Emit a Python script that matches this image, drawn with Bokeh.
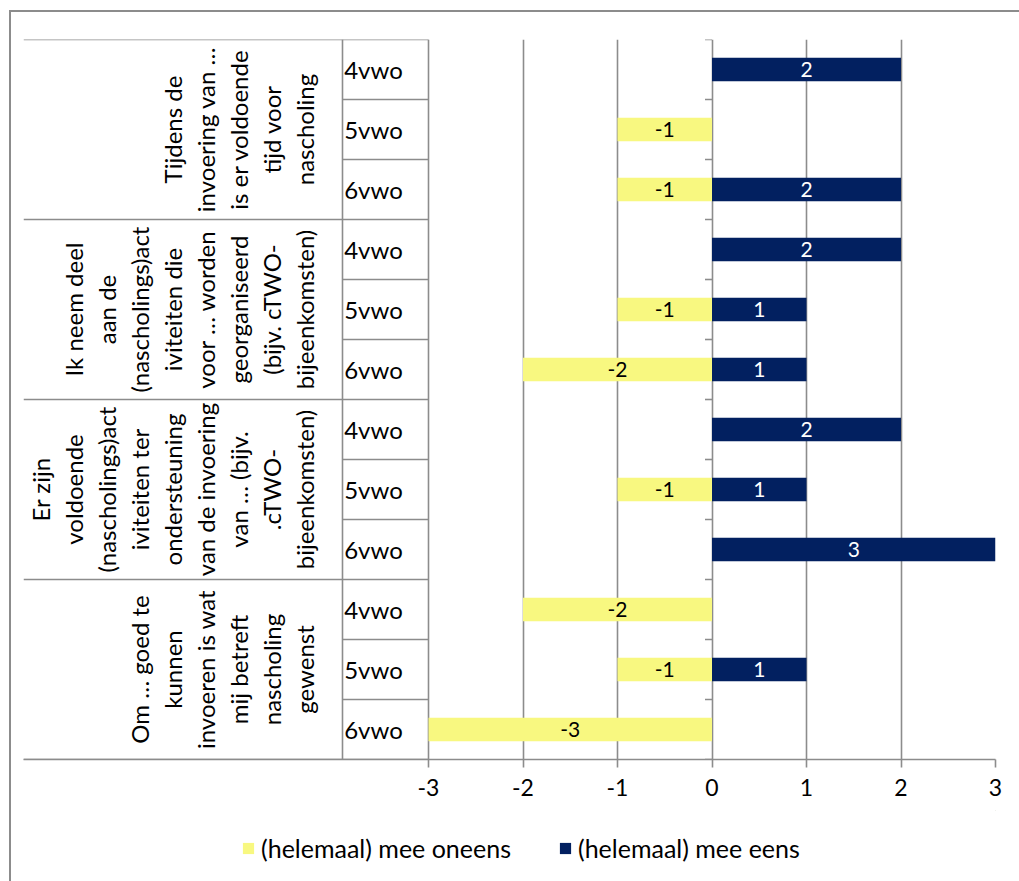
import math

from bokeh.core.properties import value
from bokeh.embed import file_html
from bokeh.layouts import column
from bokeh.models import (ColumnDataSource, FixedTicker, Legend, LegendItem,
                          Range1d)
from bokeh.plotting import figure
from bokeh.resources import INLINE

# ---- data -------------------------------------------------------------
# statements, top to bottom, already broken into their wrapped lines
statement_lines = [
    ["Tijdens de", "invoering van …", "is er voldoende", "tijd voor", "nascholing"],
    ["Ik neem deel", "aan de", "(nascholings)act", "iviteiten die", "voor … worden",
     "georganiseerd", "(bijv. cTWO-", "bijeenkomsten)"],
    ["Er zijn", "voldoende", "(nascholings)act", "iviteiten ter", "ondersteuning",
     "van de invoering", "van … (bijv.", ".cTWO-", "bijeenkomsten)"],
    ["Om … goed te", "kunnen", "invoeren is wat", "mij betreft", "nascholing", "gewenst"],
]
years = ["4vwo", "5vwo", "6vwo"]

# one value per (statement, year), in the same top-to-bottom order
disagree = [0, -1, -1, 0, -1, -2, 0, -1, 0, -2, -1, -3]
agree = [2, 0, 2, 2, 1, 1, 2, 1, 3, 0, 1, 0]

x_ticks = [-3, -2, -1, 0, 1, 2, 3]
series_names = ["(helemaal) mee oneens", "(helemaal) mee eens"]

# ---- layout -----------------------------------------------------------
W, H = 1019, 881
MAIN_H = 810                  # chart part; the legend strip takes the rest
FRAME_L, FRAME_R, FRAME_T, FRAME_B = 23, 995, 39, 759
VALUE_LEFT_PX = 428           # where the value axis starts (x = -3)
YEAR_COL_PX = 342             # divider between statement and year columns
YEAR_TEXT_PX = 373
LAST_LINE_PX = 304
LINE_STEP_PX = 33
BORDER_X, BORDER_Y = 9, 10

FONT = value("Lato")
GRID = "#8c8c8c"
YELLOW = "#f8f880"
NAVY = "#022060"

x_min, x_max = min(x_ticks), max(x_ticks)
px_per_unit = (FRAME_R - VALUE_LEFT_PX) / (x_max - x_min)
x_start = x_min - (VALUE_LEFT_PX - FRAME_L) / px_per_unit


def px_x(px):
    """Convert a horizontal pixel position in the canvas to data units."""
    return x_start + (px - FRAME_L) / px_per_unit


def border_css(top):
    """Grey chart border (left edge, optionally top edge) behind the canvas."""
    line = f"linear-gradient({GRID},{GRID})"
    if top:
        return {
            "background-color": "white",
            "background-image": f"{line}, {line}",
            "background-size": "2px 100%, 100% 2px",
            "background-position": f"{BORDER_X}px {BORDER_Y}px, {BORDER_X}px {BORDER_Y}px",
            "background-repeat": "no-repeat",
        }
    return {
        "background-color": "white",
        "background-image": line,
        "background-size": "2px 100%",
        "background-position": f"{BORDER_X}px 0px",
        "background-repeat": "no-repeat",
    }


n_rows = len(disagree)
n_years = len(years)

p = figure(
    width=W, height=MAIN_H,
    output_backend="svg", toolbar_location=None,
    x_range=Range1d(x_start, x_max), y_range=Range1d(n_rows, 0),
    y_axis_location=None,
    min_border_left=FRAME_L, min_border_right=W - FRAME_R,
    min_border_top=FRAME_T, min_border_bottom=MAIN_H - FRAME_B,
    styles=border_css(top=True),
)
p.outline_line_color = None
p.background_fill_color = "white"
p.border_fill_alpha = 0

# vertical gridlines at the value ticks only
p.xgrid.ticker = FixedTicker(ticks=x_ticks)
p.xgrid.grid_line_color = GRID
p.xgrid.grid_line_width = 1.6
p.ygrid.visible = False

ax = p.xaxis[0]
ax.ticker = FixedTicker(ticks=x_ticks)
ax.major_label_overrides = {t: str(t) for t in x_ticks}
ax.axis_line_color = GRID
ax.axis_line_width = 1.6
ax.major_tick_line_color = GRID
ax.major_tick_line_width = 1.6
ax.major_tick_in = 0
ax.major_tick_out = 8
ax.minor_tick_line_color = None
ax.major_label_text_font = "Lato"
ax.major_label_text_font_size = "23px"
ax.major_label_text_color = "black"
ax.major_label_standoff = 11

# ---- bars -------------------------------------------------------------
neg_rows = [i for i, v in enumerate(disagree) if v != 0]
pos_rows = [i for i, v in enumerate(agree) if v != 0]

neg_src = ColumnDataSource(dict(
    y=[i + 0.5 for i in neg_rows],
    left=[disagree[i] for i in neg_rows],
    right=[0] * len(neg_rows),
    mid=[disagree[i] / 2 for i in neg_rows],
    label=[str(disagree[i]) for i in neg_rows],
))
pos_src = ColumnDataSource(dict(
    y=[i + 0.5 for i in pos_rows],
    left=[0] * len(pos_rows),
    right=[agree[i] for i in pos_rows],
    mid=[agree[i] / 2 for i in pos_rows],
    label=[str(agree[i]) for i in pos_rows],
))

p.hbar(y="y", left="left", right="right", height=0.39,
       fill_color=YELLOW, line_color=None, source=neg_src)
p.hbar(y="y", left="left", right="right", height=0.39,
       fill_color=NAVY, line_color=None, source=pos_src)

p.text(x="mid", y="y", text="label", source=neg_src, text_align="center",
       text_baseline="middle", text_font=FONT, text_font_size="21px",
       text_color="black")
p.text(x="mid", y="y", text="label", source=pos_src, text_align="center",
       text_baseline="middle", text_font=FONT, text_font_size="21px",
       text_color="white")

# ---- category table on the left ---------------------------------------
tick_len = 7 / px_per_unit
group_bounds = list(range(0, n_rows + 1, n_years))
row_bounds = [b for b in range(n_rows + 1) if b not in group_bounds]

# statement separators (full width of the label area)
p.segment(x0=[px_x(FRAME_L)] * len(group_bounds), x1=[x_min] * len(group_bounds),
          y0=group_bounds, y1=group_bounds, line_color=GRID, line_width=1.6)
# year separators (year column only)
p.segment(x0=[px_x(YEAR_COL_PX)] * len(row_bounds), x1=[x_min] * len(row_bounds),
          y0=row_bounds, y1=row_bounds, line_color=GRID, line_width=1.6)
# divider between statement and year columns
p.segment(x0=[px_x(YEAR_COL_PX)], x1=[px_x(YEAR_COL_PX)], y0=[0], y1=[n_rows],
          line_color=GRID, line_width=1.6)
# tick marks on the category axis at x = 0
all_bounds = list(range(n_rows + 1))
p.segment(x0=[-tick_len] * len(all_bounds), x1=[0] * len(all_bounds),
          y0=all_bounds, y1=all_bounds, line_color=GRID, line_width=1.6)

# year labels
p.text(x=[px_x(YEAR_TEXT_PX)] * n_rows,
       y=[i + 0.5 for i in range(n_rows)],
       text=[years[i % n_years] for i in range(n_rows)],
       text_align="center", text_baseline="middle",
       text_font=FONT, text_font_size="24px", text_color="black")

# statement labels, rotated, one text per wrapped line
lx, ly, lt = [], [], []
for g, lines in enumerate(statement_lines):
    centre = g * n_years + n_years / 2
    n = len(lines)
    for k, line in enumerate(lines):
        lx.append(px_x(LAST_LINE_PX - (n - 1 - k) * LINE_STEP_PX))
        ly.append(centre)
        lt.append(line)
p.text(x=lx, y=ly, text=lt, angle=math.pi / 2,
       text_align="center", text_baseline="middle",
       text_font=FONT, text_font_size="24px", text_color="black")

# ---- legend strip -----------------------------------------------------
lg = figure(
    width=W, height=H - MAIN_H,
    output_backend="svg", toolbar_location=None,
    x_range=Range1d(0, 1), y_range=Range1d(0, 1),
    x_axis_location=None, y_axis_location=None,
    min_border=0, styles=border_css(top=False),
)
lg.outline_line_color = None
lg.grid.visible = False
lg.background_fill_alpha = 0
lg.border_fill_alpha = 0

# swatch renderers for the legend; their single bar lies outside the view
swatch_neg = lg.hbar(y=[5], left=[5], right=[6], height=1,
                     fill_color=YELLOW, line_color=None)
swatch_pos = lg.hbar(y=[5], left=[5], right=[6], height=1,
                     fill_color=NAVY, line_color=None)

legend = Legend(
    items=[LegendItem(label=series_names[0], renderers=[swatch_neg]),
           LegendItem(label=series_names[1], renderers=[swatch_pos])],
    orientation="horizontal", location=(218, 18),
    glyph_width=14, glyph_height=14, label_standoff=6, spacing=47,
    label_text_font="Lato", label_text_font_size="25px",
    label_text_color="black",
    border_line_color=None, background_fill_alpha=0,
    padding=4, margin=0,
)
lg.add_layout(legend, "center")

page = column(p, lg, spacing=0)
open("out.html", "w").write(file_html(page, INLINE))
